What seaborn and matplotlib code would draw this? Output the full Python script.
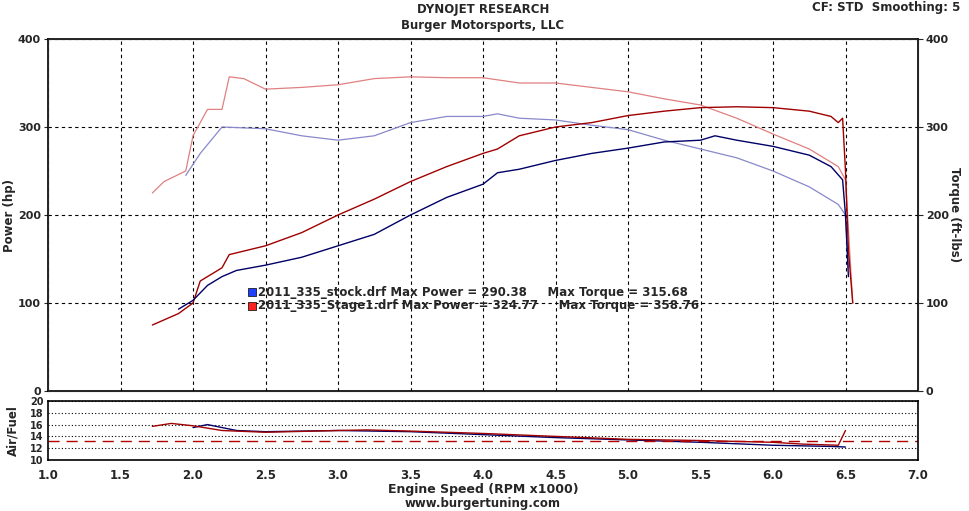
import numpy as np
import pandas as pd
import seaborn as sns
import matplotlib.pyplot as plt

# values (rpm x1000)
stock_pwr_rpm = [1.9, 2.0, 2.1, 2.2, 2.3, 2.5, 2.75, 3.0, 3.25, 3.5, 3.75, 4.0, 4.1, 4.25, 4.5, 4.75, 5.0, 5.25, 5.5, 5.6, 5.75, 6.0, 6.25, 6.4, 6.48, 6.5, 6.52]
stock_pwr = [93, 103, 120, 130, 137, 143, 152, 165, 178, 200, 220, 235, 248, 252, 262, 270, 276, 283, 285, 290, 285, 278, 268, 255, 240, 200, 130]
stage_pwr_rpm = [1.72, 1.9, 2.0, 2.05, 2.2, 2.25, 2.5, 2.75, 3.0, 3.25, 3.5, 3.75, 4.0, 4.1, 4.25, 4.5, 4.75, 5.0, 5.25, 5.5, 5.75, 6.0, 6.25, 6.4, 6.45, 6.48, 6.5, 6.52, 6.55]
stage_pwr = [75, 88, 100, 125, 140, 155, 165, 180, 200, 218, 238, 255, 270, 275, 290, 300, 305, 313, 318, 322, 323, 322, 318, 312, 305, 310, 250, 160, 100]
stock_trq_rpm = [1.95, 2.05, 2.2, 2.5, 2.75, 3.0, 3.25, 3.5, 3.75, 4.0, 4.1, 4.25, 4.5, 4.75, 5.0, 5.25, 5.5, 5.75, 6.0, 6.25, 6.45, 6.5, 6.52]
stock_trq = [245, 270, 300, 298, 290, 285, 290, 305, 312, 312, 315, 310, 308, 302, 297, 285, 275, 265, 250, 232, 212, 200, 140]
stage_trq_rpm = [1.72, 1.8, 1.95, 2.0, 2.1, 2.2, 2.25, 2.35, 2.5, 2.75, 3.0, 3.25, 3.5, 3.75, 4.0, 4.25, 4.5, 4.75, 5.0, 5.25, 5.5, 5.75, 6.0, 6.25, 6.45, 6.5, 6.55]
stage_trq = [225, 238, 250, 290, 320, 320, 357, 355, 343, 345, 348, 355, 357, 356, 356, 350, 350, 345, 340, 332, 325, 310, 292, 275, 255, 240, 100]
stock_afr_rpm = [2.0, 2.1, 2.3, 2.5, 3.0, 3.5, 4.0, 4.5, 5.0, 5.5, 6.0, 6.4, 6.5]
stock_afr = [15.5, 16.0, 15.0, 14.8, 15.0, 14.8, 14.3, 13.8, 13.4, 13.0, 12.5, 12.3, 12.2]
stage_afr_rpm = [1.72, 1.85, 2.0, 2.2, 2.5, 3.0, 3.2, 3.5, 4.0, 4.5, 5.0, 5.5, 6.0, 6.2, 6.45, 6.5]
stage_afr = [15.7, 16.2, 15.8, 15.0, 14.7, 15.0, 15.1, 14.9, 14.5, 14.0, 13.5, 13.3, 13.0, 12.7, 12.5, 15.0]
afr_target = 13.2

plt.rcParams["font.family"] = "DejaVu Sans"
plt.rcParams["font.weight"] = "bold"
sns.set_style("white")

fig = plt.figure(figsize=(9.69, 5.11), dpi=100)
W, H = 969, 511
ax = fig.add_axes([48 / W, 1 - 391 / H, 870 / W, 352 / H])
ax2 = fig.add_axes([48 / W, 1 - 460 / H, 870 / W, 59 / H])

sns.lineplot(x=stage_trq_rpm, y=stage_trq, ax=ax, color="#e08080", lw=0.9, sort=False)
sns.lineplot(x=stock_trq_rpm, y=stock_trq, ax=ax, color="#8888cc", lw=0.9, sort=False)
sns.lineplot(x=stage_pwr_rpm, y=stage_pwr, ax=ax, color="#a00000", lw=1.0, sort=False)
sns.lineplot(x=stock_pwr_rpm, y=stock_pwr, ax=ax, color="#000066", lw=1.0, sort=False)

for a in (ax, ax2):
    a.set_xlim(1.0, 7.0)
    a.set_xticks(np.arange(1.0, 7.01, 0.5))
    a.tick_params(labelsize=8.5, length=3)
    for s in a.spines.values():
        s.set_linewidth(1.2)
        s.set_color("black")

ax.set_ylim(0, 400)
ax.set_yticks([0, 100, 200, 300, 400])
ax.tick_params(axis="y", labelsize=8, pad=2)
ax.grid(True, color="black", ls=(0, (3, 3)), lw=0.8)
ax.set_xticklabels([])
ax.set_ylabel("Power (hp)", fontsize=8.5, fontweight="bold")
ax.yaxis.set_label_coords(-0.037, 0.5)
axr = ax.twinx()
axr.set_ylim(0, 400)
axr.set_yticks([0, 100, 200, 300, 400])
axr.tick_params(labelsize=8, pad=2)
axr.set_ylabel("Torque (ft-lbs)", fontsize=8.5, fontweight="bold", rotation=270)
axr.yaxis.set_label_coords(1.05, 0.5)

ax.text(2.45, 112, "2011_335_stock.drf Max Power = 290.38     Max Torque = 315.68", fontsize=8.5,
        fontweight="bold", va="center")
ax.text(2.45, 97, "2011_335_Stage1.drf Max Power = 324.77     Max Torque = 358.76", fontsize=8.5,
        fontweight="bold", va="center")
ax.scatter([2.41], [112], marker="s", s=30, color="#2040ff", edgecolor="black", lw=0.5)
ax.scatter([2.41], [97], marker="s", s=30, color="#ff2020", edgecolor="black", lw=0.5)

sns.lineplot(x=stock_afr_rpm, y=stock_afr, ax=ax2, color="#000066", lw=1.0, sort=False)
sns.lineplot(x=stage_afr_rpm, y=stage_afr, ax=ax2, color="#a00000", lw=1.0, sort=False)
ax2.axhline(afr_target, color="#b00000", ls=(0, (8, 5)), lw=1.0)
ax2.set_ylim(10, 20)
ax2.set_yticks([10, 12, 14, 16, 18, 20])
ax2.tick_params(axis="y", labelsize=7, pad=1, length=2)
ax2.grid(True, axis="y", color="black", ls=(0, (1, 2)), lw=0.8)
ax2.set_ylabel("Air/Fuel", fontsize=8.5, fontweight="bold")
ax2.yaxis.set_label_coords(-0.033, 0.5)
ax2.set_xlabel("Engine Speed (RPM x1000)", fontsize=9, fontweight="bold", labelpad=1)

fig.text(483 / W, 1 - 10 / H, "DYNOJET RESEARCH", ha="center", va="center", fontsize=8.5, fontweight="bold")
fig.text(483 / W, 1 - 25 / H, "Burger Motorsports, LLC", ha="center", va="center", fontsize=8.5, fontweight="bold")
fig.text(960 / W, 1 - 8 / H, "CF: STD  Smoothing: 5", ha="right", va="center", fontsize=8.5, fontweight="bold")
fig.text(483 / W, 1 - 504 / H, "www.burgertuning.com", ha="center", va="center", fontsize=8.5, fontweight="bold")

fig.savefig("out.png", dpi=100)
